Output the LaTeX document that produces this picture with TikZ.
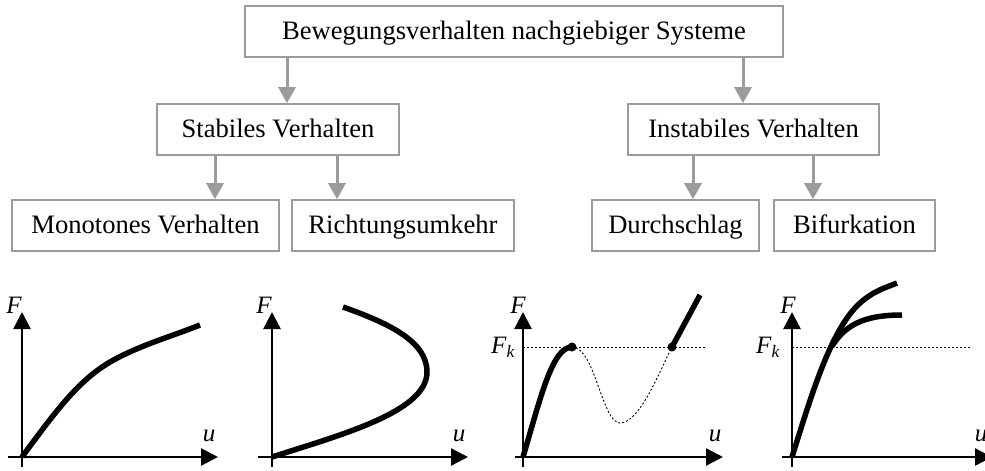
\documentclass[tikz,border=0pt]{standalone}
\usepackage{fontspec}
\setmainfont{Liberation Serif}
\usetikzlibrary{arrows.meta}
\definecolor{boxgray}{RGB}{155,155,155}
\begin{document}
\begin{tikzpicture}[x=1pt,y=-1pt,
  box/.style={draw=boxgray,line width=1.6pt,minimum height=51pt,inner sep=0pt,text height=20pt,text depth=5pt,font=\fontsize{26.6}{30}\selectfont},
  conn/.style={draw=boxgray,line width=3pt,-{Triangle[width=17pt,length=16pt]}},
  axis/.style={line width=2.4pt,-{Triangle[width=17pt,length=17pt]}},
  curve/.style={line width=5.5pt},
  thin dash/.style={line width=0.9pt,dash pattern=on 2pt off 2pt},
  lbl/.style={font=\fontsize{25}{28}\selectfont\itshape,inner sep=0pt}]
\useasboundingbox (0,0) rectangle (985,471);
% boxes
\node[box,minimum width=538pt] (top) at (514,31.5) {Bewegungsverhalten nachgiebiger Systeme};
\node[box,minimum width=242pt] (stab) at (278,129.5) {Stabiles Verhalten};
\node[box,minimum width=251pt] (inst) at (753.5,129.5) {Instabiles Verhalten};
\node[box,minimum width=267pt] (mono) at (145.5,225.5) {Monotones Verhalten};
\node[box,minimum width=222pt] (richt) at (403,225.5) {Richtungsumkehr};
\node[box,minimum width=167pt] (durch) at (675.5,225.5) {Durchschlag};
\node[box,minimum width=161pt] (bif) at (854.5,225.5) {Bifurkation};
% connector x positions
\coordinate (a1) at (287,0);
\coordinate (a2) at (743,0);
\coordinate (a3) at (215,0);
\coordinate (a4) at (337,0);
\coordinate (a5) at (693,0);
\coordinate (a6) at (813,0);
\draw[conn] (top.south -| a1) -- (stab.north -| a1);
\draw[conn] (top.south -| a2) -- (inst.north -| a2);
\draw[conn] (stab.south -| a3) -- (mono.north -| a3);
\draw[conn] (stab.south -| a4) -- (richt.north -| a4);
\draw[conn] (inst.south -| a5) -- (durch.north -| a5);
\draw[conn] (inst.south -| a6) -- (bif.north -| a6);
% graph 1
\draw[axis] (22,467) -- (22,312);
\draw[axis] (8,457) -- (218,457);
\node[lbl] at (14,305) {F};
\node[lbl] at (209,436) {u};
\draw[curve] (22,457) .. controls (60,405) and (80,380) .. (110,362) .. controls (140,345) and (170,337) .. (200,325);
% graph 2
\draw[axis] (272,467) -- (272,312);
\draw[axis] (258,457) -- (468,457);
\node[lbl] at (264,305) {F};
\node[lbl] at (459,436) {u};
\draw[curve] (272,457) .. controls (340,435) and (427,412) .. (427,372) .. controls (427,340) and (385,322) .. (343,307);
% graph 3
\draw[thin dash] (523,347) -- (705,347);
\draw[axis] (523,467) -- (523,312);
\draw[axis] (515,457) -- (723,457);
\node[lbl] at (518,305) {F};
\node[lbl] at (503,347) {F\textsubscript{\itshape k}};
\node[lbl] at (715,436) {u};
\draw[curve] (523,457) .. controls (540,400) and (552,347) .. (572,347);
\draw[thin dash] (572,347) .. controls (595,347) and (602,423) .. (620,423) .. controls (640,423) and (660,370) .. (672,347);
\draw[curve] (672,347) -- (700,295);
\fill (572,347) circle (4.5pt);
\fill (672,347) circle (4.5pt);
% graph 4
\draw[thin dash] (792,347) -- (972,347);
\draw[axis] (792,467) -- (792,312);
\draw[axis] (782,457) -- (992,457);
\node[lbl] at (788,305) {F};
\node[lbl] at (768,347) {F\textsubscript{\itshape k}};
\node[lbl] at (981,436) {u};
\draw[curve] (792,457) .. controls (810,400) and (830,330) .. (860,303) .. controls (875,290) and (885,288) .. (897,283);
\draw[curve] (832,346) .. controls (845,326) and (862,315) .. (902,315);
\end{tikzpicture}
\end{document}
